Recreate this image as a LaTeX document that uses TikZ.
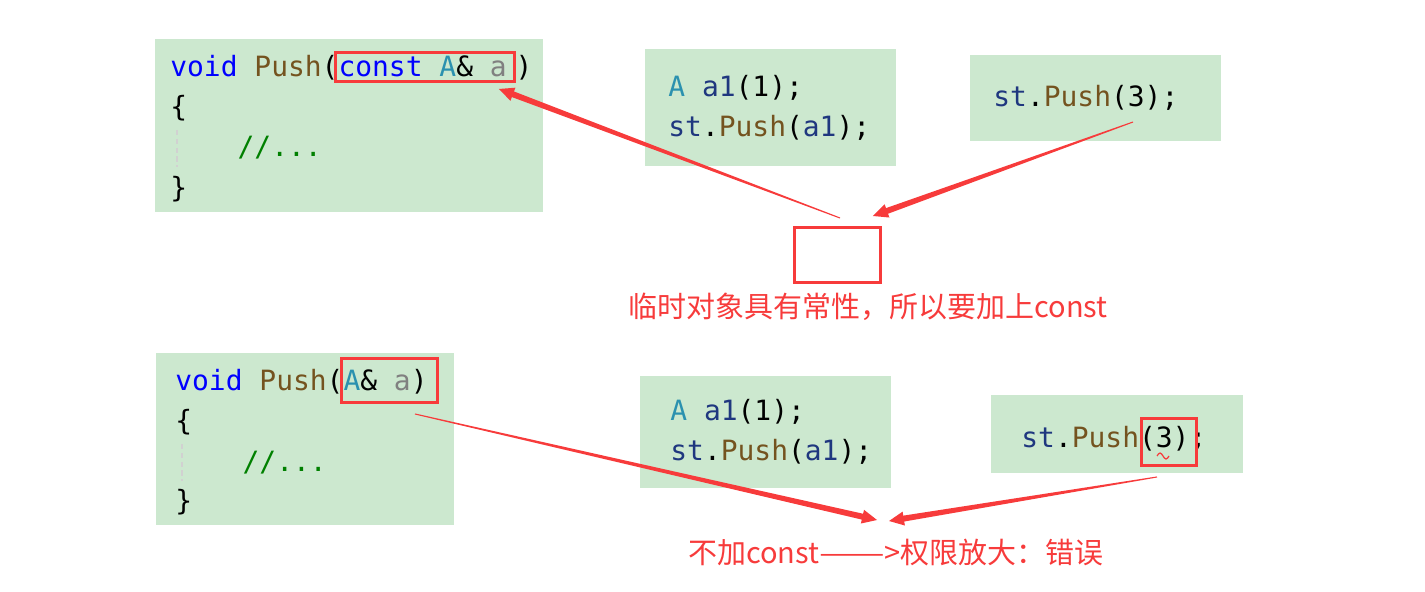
\documentclass[tikz,border=0pt]{standalone}
\usepackage{fontspec}
\setmonofont{DejaVu Sans Mono}
\newfontfamily\cjk{Noto Sans CJK SC}
\usetikzlibrary{calc,positioning}
\definecolor{CodeBg} {RGB}{204,232,207}
\definecolor{KwBlue} {RGB}{0,  0,  255}
\definecolor{FnBrown}{RGB}{116, 83, 31}
\definecolor{TyTeal} {RGB}{43, 145,175}
\definecolor{ParGray}{RGB}{128,128,128}
\definecolor{CmGreen}{RGB}{0,  128,  0}
\definecolor{VarNavy}{RGB}{31,  55,127}
\definecolor{AnnoR}  {RGB}{247, 59, 59}
\newcommand{\codefont}{\fontsize{15.9}{19}\selectfont\ttfamily}
\newcommand{\notefont}{\fontsize{16.5}{20}\selectfont\cjk}
\newcommand{\kw}[1]{\textcolor{KwBlue}{#1}}
\newcommand{\fn}[1]{\textcolor{FnBrown}{#1}}
\newcommand{\ty}[1]{\textcolor{TyTeal}{#1}}
\newcommand{\pa}[1]{\textcolor{ParGray}{#1}}
\newcommand{\cm}[1]{\textcolor{CmGreen}{#1}}
\newcommand{\va}[1]{\textcolor{VarNavy}{#1}}
% thin tail, wide end, arrow head at #2
\newcommand{\taperarrow}[2]{%
  \coordinate (tb) at ($(#2)!8.5pt!(#1)$);
  \fill[AnnoR] ($(#1)!0.3pt!90:(#2)$) -- ($(tb)!1.7pt!-90:(#1)$)
    -- ($(tb)!4pt!-90:(#1)$) -- (#2) -- ($(tb)!4pt!90:(#1)$)
    -- ($(tb)!1.7pt!90:(#1)$) -- ($(#1)!0.3pt!-90:(#2)$) -- cycle;}
\tikzset{
  codebox/.style={fill=CodeBg,draw=none,anchor=north west,inner sep=0pt},
  codeline/.style={anchor=base west,inner sep=0pt,font=\codefont},
  markbox/.style={draw=AnnoR,line width=1.7pt,anchor=north west,inner sep=0pt},
  guide/.style={draw=black!18,line width=1pt,dash pattern=on 3pt off 2pt},
  note/.style={text=AnnoR,font=\notefont,inner sep=0pt}
}
\begin{document}
\begin{tikzpicture}[x=0.02cm,y=-0.02cm]
\useasboundingbox (0,0) rectangle (1425,591);
% top row: with const
\node[codebox,minimum width=7.76cm,minimum height=3.46cm] (defc) at (155,39) {};
\node[codeline] (defc1) at (170,77) {\kw{void} \fn{Push}(\kw{const} \ty{A}\& \pa{a}\kern5pt)};
\node[codeline] (defc2) at (170,117) {\{};
\node[codeline] (defc3) at (170,157) {\hphantom{0000}\cm{//...}};
\node[codeline] (defc4) at (170,197) {\}};
\draw[guide] (177,130) -- (177,167);
\node[markbox,minimum width=3.58cm,minimum height=0.58cm] (cmark) at (334,51) {};

\node[codebox,minimum width=5.02cm,minimum height=2.34cm] (objc) at (645,49) {};
\node[codeline] (objc1) at (668,97) {\ty{A} \va{a1}(1);};
\node[codeline] (objc2) at (668,137) {\va{st}.\fn{Push}(\va{a1});};

\node[codebox,minimum width=5.02cm,minimum height=1.72cm] (litc) at (970,55) {};
\node[codeline] (litc1) at (993,107) {\va{st}.\fn{Push}(3);};

\node[markbox,minimum width=1.72cm,minimum height=1.10cm] (tmpobj) at (793,226) {};
\node[note] (note1) at (868,307) {临时对象具有常性，所以要加上const};

\coordinate (tail1) at (840,218);
\coordinate (tip1) at ($(cmark.south east)+(-17,6)$);
\taperarrow{tail1}{tip1}
\coordinate (tail2) at (1133,122);
\coordinate (tip2) at ($(tmpobj.north east)+(-9,-10)$);
\taperarrow{tail2}{tip2}

% bottom row: without const
\node[codebox,minimum width=5.96cm,minimum height=3.44cm] (defn) at (156,353) {};
\node[codeline] (defn1) at (175,390) {\kw{void} \fn{Push}(\ty{A}\& \pa{a})};
\node[codeline] (defn2) at (175,430) {\{};
\node[codeline] (defn3) at (175,471) {\hphantom{0000}\cm{//...}};
\node[codeline] (defn4) at (175,510) {\}};
\draw[guide] (182,444) -- (182,481);
\node[markbox,minimum width=1.92cm,minimum height=0.88cm] (nmark) at (340,357) {};

\node[codebox,minimum width=5.02cm,minimum height=2.24cm] (objn) at (640,376) {};
\node[codeline] (objn1) at (670,420) {\ty{A} \va{a1}(1);};
\node[codeline] (objn2) at (670,460) {\va{st}.\fn{Push}(\va{a1});};

\node[codebox,minimum width=5.04cm,minimum height=1.56cm] (litn) at (991,395) {};
\node[codeline] (litn1) at (1021,447) {\va{st}.\fn{Push}(3);};
\node[markbox,minimum width=1.10cm,minimum height=0.94cm] (lmark) at (1140,417) {};
\draw[AnnoR,line width=0.7pt] (1157,456) sin (1160,453) cos (1163,456) sin (1166,459) cos (1169,456);

\node[note] (note2) at (896,553) {不加const\scalebox{1.35}[1]{——}>权限放大：错误};

\coordinate (tail3) at ($(nmark.south east)+(-24,10)$);
\coordinate (tip3) at (877,520);
\taperarrow{tail3}{tip3}
\coordinate (tail4) at ($(lmark.south)+(-12,10)$);
\coordinate (tip4) at (889,521);
\taperarrow{tail4}{tip4}
\end{tikzpicture}
\end{document}
